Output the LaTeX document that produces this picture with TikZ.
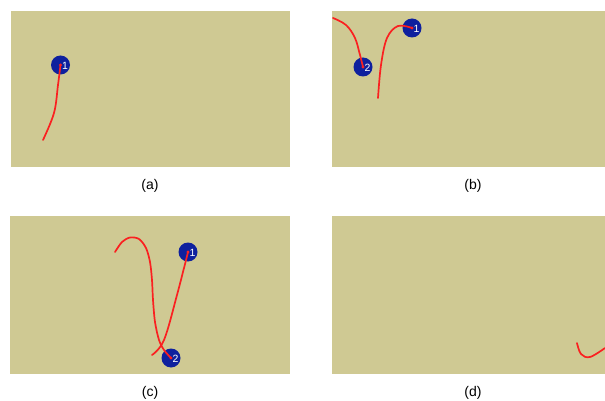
\documentclass[tikz,border=0pt]{standalone}
\usepackage{fontspec}
\setmainfont{Liberation Sans}
\definecolor{sand}{RGB}{207,201,147}
\definecolor{ballblue}{RGB}{14,32,158}
\definecolor{trail}{RGB}{250,32,32}
\tikzset{
  panel/.style={fill=sand,draw=none},
  ball/.style={circle,inner sep=0pt,minimum size=19pt,fill=ballblue},
  num/.style={text=white,font=\fontsize{10.5}{10.5}\selectfont,inner sep=0pt},
  trailline/.style={draw=trail,line width=1.7pt,line cap=round,line join=round},
  caption/.style={font=\fontsize{14}{16}\selectfont}
}
\begin{document}
\begin{tikzpicture}[x=1pt,y=-1pt]
		\useasboundingbox[fill=white] (0,0) rectangle (605,401);
		%Panneaux
		\fill[panel] (11,11) rectangle (290,167);
		\fill[panel] (332,11) rectangle (605,167);
		\fill[panel] (10,216) rectangle (290,374);
		\fill[panel] (332,216) rectangle (605,374);
		%Boules
		\node[ball,label={[num,xshift=4.5pt,yshift=-1pt]center:1}] (A1) at (60.5,65) {};
		\node[ball,label={[num,xshift=4.5pt,yshift=-1pt]center:1}] (B1) at (412,28) {};
		\node[ball,label={[num,xshift=4.5pt,yshift=-1pt]center:2}] (B2) at (363,67) {};
		\node[ball,label={[num,xshift=4.5pt,yshift=-1pt]center:1}] (C1) at (188,252) {};
		\node[ball,label={[num,xshift=4.5pt,yshift=-1pt]center:2}] (C2) at (171,358) {};
		%Extremites libres
		\coordinate (a0) at (43,140);
		\coordinate (b0) at (333,18);
		\coordinate (b1) at (378,98);
		\coordinate (c0) at (115,252);
		\coordinate (c1) at (152,355);
		\coordinate (d0) at (577,343);
		\coordinate (d1) at (605,348);
		%Trajectoires
		\draw[trailline] plot[smooth,tension=0.6] coordinates {(A1.center) (58,85) (54,113) (a0)};
		\draw[trailline] plot[smooth,tension=0.6] coordinates {(b0) (346,25) (355,38) (360,55) (B2.center)};
		\draw[trailline] plot[smooth,tension=0.6] coordinates {(b1) (381,65) (387,38) (398,26) (B1.center)};
		\draw[trailline] plot[smooth,tension=0.5] coordinates {(c0) (122,242) (130,237.5) (139,239) (146,248) (150,262) (152,280) (153,300) (155,322) (159,340) (164,350) (C2.center)};
		\draw[trailline] plot[smooth,tension=0.6] coordinates {(C1.center) (177,295) (164,340) (c1)};
		\draw[trailline] plot[smooth,tension=0.6] coordinates {(d0) (581,354) (590,357) (d1)};
		\fill[trail] (A1.center) circle (1.6);
		\fill[trail] (B1.center) circle (1.6);
		\fill[trail] (B2.center) circle (1.6);
		\fill[trail] (C1.center) circle (1.6);
		\fill[trail] (C2.center) circle (1.6);
		%Legendes
		\node[caption] (capA) at (150,186) {(a)};
		\node[caption] (capB) at (473,186) {(b)};
		\node[caption] (capC) at (150,393) {(c)};
		\node[caption] (capD) at (473,393) {(d)};
	\end{tikzpicture}
\end{document}
